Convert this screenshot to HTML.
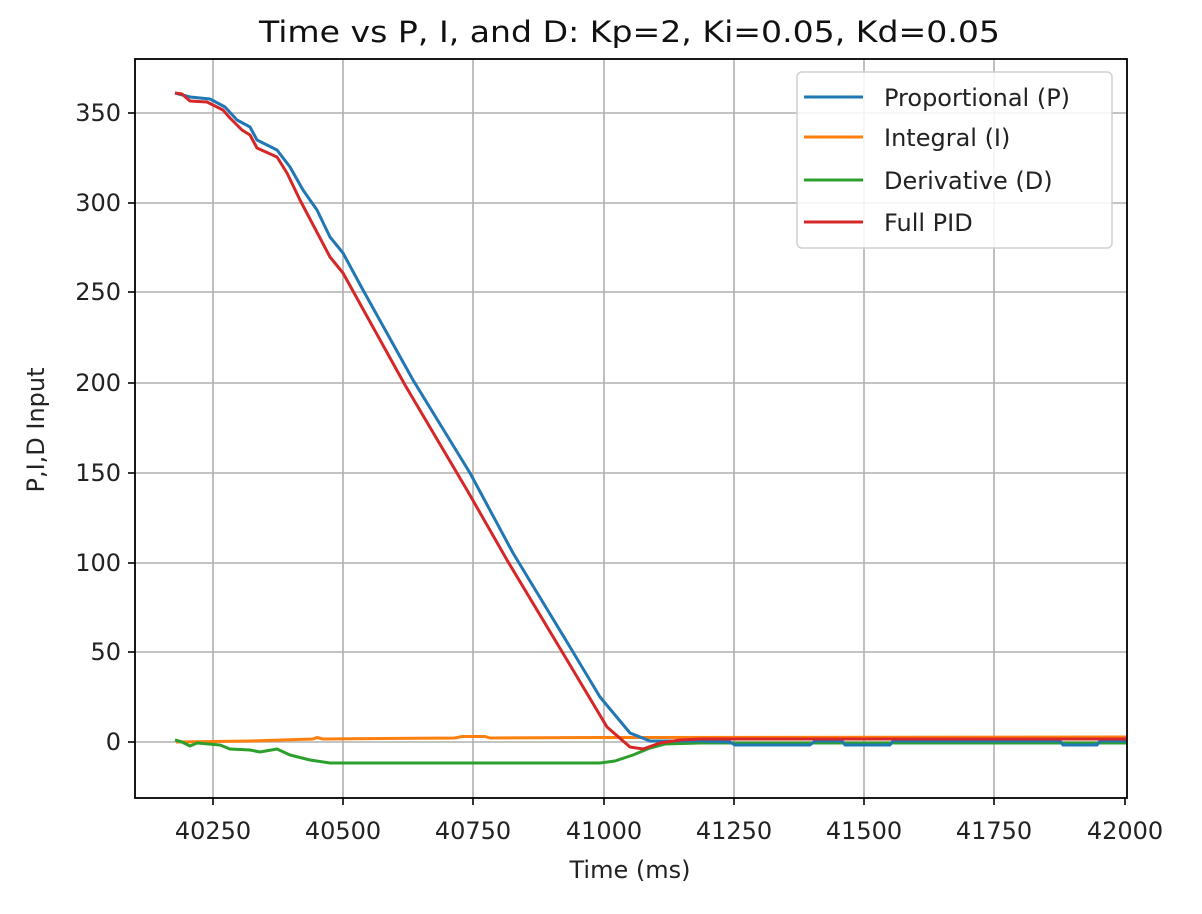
<!DOCTYPE html>
<html><head><meta charset="utf-8"><style>
html,body{margin:0;padding:0;background:#fff;}
svg{display:block;font-family:"DejaVu Sans","Liberation Sans",sans-serif;}
</style></head><body>
<svg width="1202" height="914" viewBox="0 0 1202 914" xmlns="http://www.w3.org/2000/svg">
<rect width="1202" height="914" fill="#fff"/>
<g stroke="#b0b0b0" stroke-width="1.6">
<line x1="213" y1="59" x2="213" y2="798"/><line x1="343" y1="59" x2="343" y2="798"/>
<line x1="473" y1="59" x2="473" y2="798"/><line x1="604" y1="59" x2="604" y2="798"/>
<line x1="734" y1="59" x2="734" y2="798"/><line x1="864" y1="59" x2="864" y2="798"/>
<line x1="994" y1="59" x2="994" y2="798"/>
<line x1="135" y1="113" x2="1127" y2="113"/><line x1="135" y1="203" x2="1127" y2="203"/>
<line x1="135" y1="292" x2="1127" y2="292"/><line x1="135" y1="383" x2="1127" y2="383"/>
<line x1="135" y1="473" x2="1127" y2="473"/><line x1="135" y1="563" x2="1127" y2="563"/>
<line x1="135" y1="652" x2="1127" y2="652"/><line x1="135" y1="742" x2="1127" y2="742"/>
</g>
<g fill="none" stroke-width="3" stroke-linejoin="round">
<polyline stroke="#ff7f0e" points="176,742 250,741 313,739 317,737.5 323,739 455,738 462,736.5 485,736.5 490,738 600,737.5 1127,737"/>
<polyline stroke="#2ca02c" points="175,740 182,742 190,746 197,743 220,745 230,749 250,750 260,752 277,749 290,755 310,760 330,763 600,763 615,761 633,755 650,748 665,744 700,743 1127,743"/>
<polyline stroke="#1f77b4" points="175,93 190,97 210,99 225,107 237,120 250,127 257,140 277,150 290,167 303,190 317,210 330,237 343,253 363,290 413,380 470,473 513,553 570,647 600,697 630,733 650,741 700,741 730,742 735,745 810,745 815,741 842,741 845,745 890,745 893,741 1060,741 1063,745 1097,745 1100,741 1127,741"/>
<polyline stroke="#d62728" points="175,93 182,94 190,101 207,102 223,110 230,118 242,130 250,135 257,148 277,157 287,173 300,200 330,257 343,273 405,385 467,490 507,560 567,660 607,727 630,747 643,749 660,743 680,740 700,739 1127,739"/>
</g>
<rect x="135" y="59" width="992" height="739" fill="none" stroke="#000" stroke-width="1.8"/>
<g stroke="#000" stroke-width="1.6">
<line x1="213" y1="798" x2="213" y2="805"/><line x1="343" y1="798" x2="343" y2="805"/>
<line x1="473" y1="798" x2="473" y2="805"/><line x1="604" y1="798" x2="604" y2="805"/>
<line x1="734" y1="798" x2="734" y2="805"/><line x1="864" y1="798" x2="864" y2="805"/>
<line x1="994" y1="798" x2="994" y2="805"/><line x1="1125" y1="798" x2="1125" y2="805"/>
<line x1="128" y1="113" x2="135" y2="113"/><line x1="128" y1="203" x2="135" y2="203"/>
<line x1="128" y1="292" x2="135" y2="292"/><line x1="128" y1="383" x2="135" y2="383"/>
<line x1="128" y1="473" x2="135" y2="473"/><line x1="128" y1="563" x2="135" y2="563"/>
<line x1="128" y1="652" x2="135" y2="652"/><line x1="128" y1="742" x2="135" y2="742"/>
</g>
<g font-size="24" fill="#222" text-anchor="middle">
<text x="213" y="839">40250</text><text x="343" y="839">40500</text>
<text x="473" y="839">40750</text><text x="604" y="839">41000</text>
<text x="734" y="839">41250</text><text x="864" y="839">41500</text>
<text x="994" y="839">41750</text><text x="1125" y="839">42000</text>
</g>
<g font-size="24" fill="#222" text-anchor="end">
<text x="121" y="121">350</text><text x="121" y="211">300</text>
<text x="121" y="300">250</text><text x="121" y="391">200</text>
<text x="121" y="481">150</text><text x="121" y="571">100</text>
<text x="121" y="660">50</text><text x="121" y="750">0</text>
</g>
<text x="630" y="878" font-size="24" fill="#222" text-anchor="middle">Time (ms)</text>
<text transform="translate(44,430) rotate(-90)" font-size="24" fill="#222" text-anchor="middle">P,I,D Input</text>
<text x="259" y="42" font-size="29" fill="#111" textLength="741" lengthAdjust="spacingAndGlyphs">Time vs P, I, and D: Kp=2, Ki=0.05, Kd=0.05</text>
<rect x="797" y="72" width="315" height="176" rx="5" fill="#fff" fill-opacity="0.85" stroke="#d0d0d0" stroke-width="1.5"/>
<g stroke-width="3">
<line x1="804" y1="97" x2="863" y2="97" stroke="#1f77b4"/>
<line x1="804" y1="137" x2="863" y2="137" stroke="#ff7f0e"/>
<line x1="804" y1="180" x2="863" y2="180" stroke="#2ca02c"/>
<line x1="804" y1="222" x2="863" y2="222" stroke="#d62728"/>
</g>
<g font-size="24" fill="#222">
<text x="884" y="106">Proportional (P)</text>
<text x="884" y="146">Integral (I)</text>
<text x="884" y="189">Derivative (D)</text>
<text x="884" y="231">Full PID</text>
</g>
</svg>
</body></html>
